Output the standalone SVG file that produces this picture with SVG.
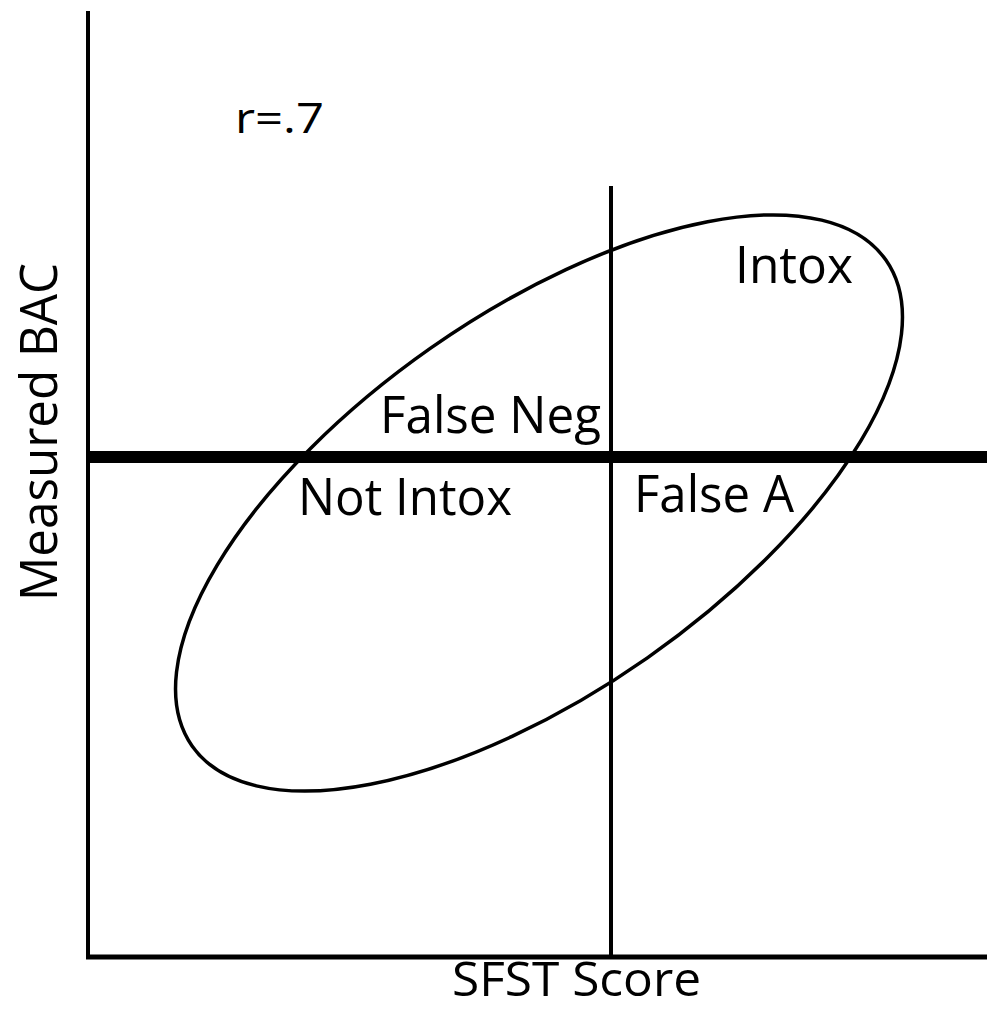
<svg xmlns="http://www.w3.org/2000/svg" width="987" height="1010" viewBox="0 0 987 1010">
<style>
.ln{stroke:#000;fill:none}
.t{font-family:"Open Sans","Noto Sans",sans-serif;font-size:52px;fill:#000}
</style>
<rect width="987" height="1010" fill="#fff"/>
<g id="connectors">
<line class="ln" x1="88" y1="11" x2="88" y2="959" stroke-width="4"/>
<line class="ln" x1="86" y1="957" x2="987" y2="957" stroke-width="5"/>
<line class="ln" x1="611" y1="186" x2="611" y2="957" stroke-width="4"/>
<line class="ln" x1="88" y1="457" x2="987" y2="457" stroke-width="12"/>
</g>
<g id="ellipse">
<ellipse class="ln" cx="539" cy="503" rx="423.5" ry="189" transform="rotate(-35 539 503)" stroke-width="3.5"/>
</g>
<g id="label-r"><text class="t" x="235" y="133" style="font-size:42px" textLength="89" lengthAdjust="spacingAndGlyphs">r=.7</text></g>
<g id="label-intox"><text class="t" x="735" y="283" textLength="118" lengthAdjust="spacingAndGlyphs">Intox</text></g>
<g id="label-falseneg"><text class="t" x="380" y="433" textLength="221" lengthAdjust="spacingAndGlyphs">False Neg</text></g>
<g id="label-notintox"><text class="t" x="298" y="515" textLength="214" lengthAdjust="spacingAndGlyphs">Not Intox</text></g>
<g id="label-falsea"><text class="t" x="634" y="512" textLength="160" lengthAdjust="spacingAndGlyphs">False A</text></g>
<g id="label-x"><text class="t" x="452" y="996" style="font-size:48px" textLength="249" lengthAdjust="spacingAndGlyphs">SFST Score</text></g>
<g id="label-y"><text class="t" transform="translate(57 432) rotate(-90)" x="0" y="0" text-anchor="middle" textLength="338" lengthAdjust="spacingAndGlyphs">Measured BAC</text></g>
</svg>
